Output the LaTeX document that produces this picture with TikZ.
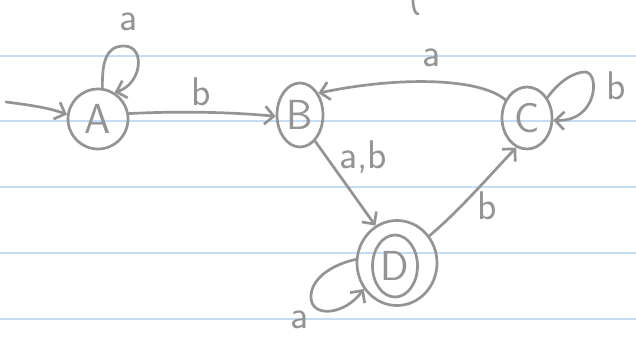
\documentclass[tikz,border=0pt]{standalone}
\usetikzlibrary{arrows.meta,shapes.geometric}
\begin{document}
\begin{tikzpicture}[x=1pt,y=-1pt,
  pen/.style={draw=black!42,line width=2.7pt,line cap=round,line join=round},
  arr/.style={pen,-{Straight Barb[length=9pt,width=18pt,line width=2.7pt]}},
  st/.style={pen,ellipse,inner sep=0pt,text=black!42,font=\sffamily\fontsize{42}{44}\selectfont},
  lbl/.style={text=black!42,inner sep=1pt,font=\sffamily\fontsize{40}{42}\selectfont},
  rule/.style={draw={rgb,255:red,197;green,220;blue,246},line width=1.6pt}]
\useasboundingbox (0,0) rectangle (636,338);
\fill[white] (0,0) rectangle (636,338);
\foreach \yy in {56,121,187,253,319} \draw[rule] (0,\yy) -- (636,\yy);
% stray stroke at top
\draw[pen] (413,0) .. controls (413,8) and (415,14) .. (418,14);
% states
\node[st,minimum width=60pt,minimum height=60pt] (A) at (98,119) {A};
\node[st,minimum width=46pt,minimum height=64pt] (B) at (300,115) {B};
\node[st,minimum width=50pt,minimum height=62pt] (C) at (527,118) {C};
\node[st,minimum width=80pt,minimum height=85pt] (Do) at (397,263) {};
\node[st,minimum width=45pt,minimum height=62pt] (D) at (395,266) {D};
% initial
\coordinate (init) at (6,102);
\draw[arr] (init) .. controls (30,105) and (50,108) .. (A.172);
% A loop
\draw[arr] (A.82) .. controls (102,62) and (106,46) .. (124,46) .. controls (146,46) and (142,84) .. (A.58);
\node[lbl] (la) at (129,22) {a};
% A -> B
\draw[arr] (A.10) .. controls (180,111) and (230,112) .. (B.183);
\node[lbl] (lb1) at (201,92) {b};
% C -> B
\draw[arr] (C.140) .. controls (480,78) and (400,76) .. (B.50);
\node[lbl] (la2) at (432,58) {a};
% C loop
\draw[arr] (C.45) .. controls (560,80) and (575,72) .. (585,72) .. controls (600,72) and (598,122) .. (C.355);
\node[lbl] (lb2) at (616,86) {b};
% B -> D
\draw[arr] (B.300) -- (Do.120);
\node[lbl] (lab) at (363,157) {a,b};
% D -> C
\draw[arr] (Do.40) .. controls (460,210) and (490,175) .. (C.250);
\node[lbl] (lb3) at (487,206) {b};
% D loop
\draw[arr] (Do.175) .. controls (330,265) and (310,280) .. (311,298) .. controls (312,318) and (345,315) .. (Do.218);
\node[lbl] (la3) at (300,320) {a};
\end{tikzpicture}
\end{document}
